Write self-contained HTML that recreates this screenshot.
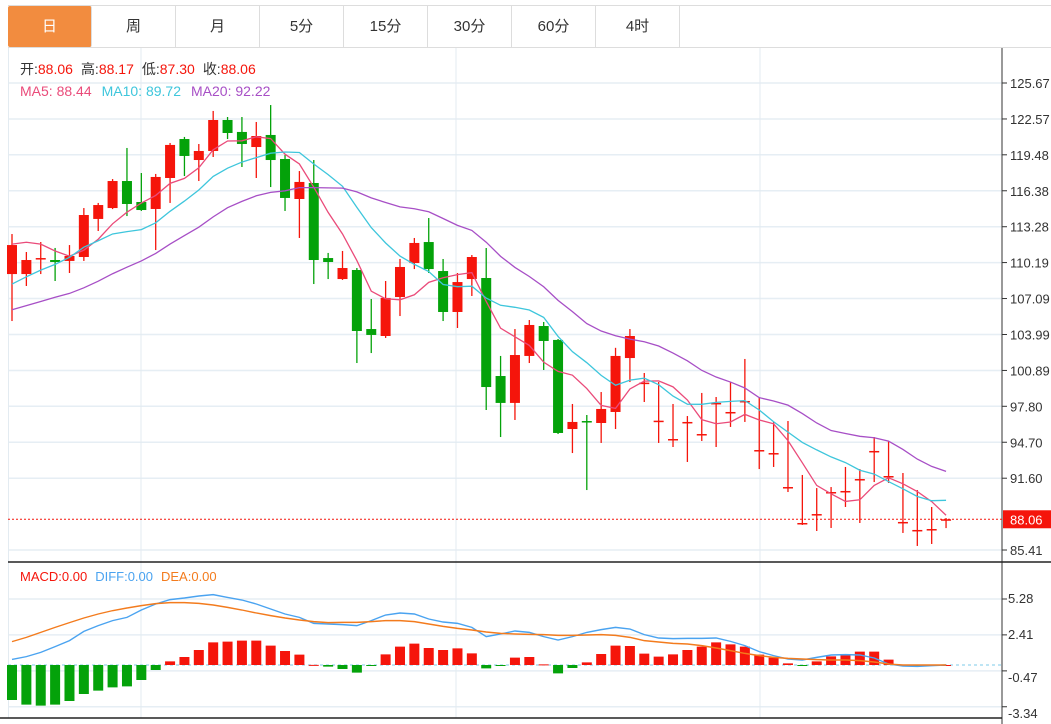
<!DOCTYPE html>
<html><head><meta charset="utf-8">
<style>
body{margin:0;background:#fff;font-family:"Liberation Sans","Noto Sans CJK SC",sans-serif;}
#wrap{position:relative;width:1051px;height:724px;overflow:hidden;}
.tab{position:absolute;top:6px;height:41px;width:84px;line-height:41px;text-align:center;font-size:15px;color:#333;border-right:1px solid #ddd;box-sizing:border-box;}
.tab.on{background:#f28c3f;color:#fff;border-radius:2px;}
</style></head><body>
<div id="wrap">
<div style="position:absolute;left:8px;top:5px;width:1043px;height:43px;border-top:1px solid #ddd;border-bottom:1px solid #ddd;box-sizing:border-box"></div>
<div class="tab on" style="left:8px">日</div>
<div class="tab" style="left:92px">周</div>
<div class="tab" style="left:176px">月</div>
<div class="tab" style="left:260px">5分</div>
<div class="tab" style="left:344px">15分</div>
<div class="tab" style="left:428px">30分</div>
<div class="tab" style="left:512px">60分</div>
<div class="tab" style="left:596px">4时</div>
<svg id="svg" width="1051" height="724" style="position:absolute;left:0;top:0"></svg>
</div>
<script>
const opens=[109.20,109.20,110.50,110.41,110.33,110.67,113.95,114.89,117.22,115.41,114.81,117.48,120.84,119.03,119.81,122.48,121.45,120.15,121.19,119.12,115.67,117.05,110.58,108.77,109.55,104.46,103.86,107.22,110.15,111.96,109.46,105.93,108.77,108.86,100.41,98.09,102.14,104.72,103.52,95.84,96.53,96.36,97.31,101.96,99.78,96.50,94.93,96.40,95.36,98.04,97.26,98.21,93.98,93.72,90.79,87.69,88.46,90.36,90.45,91.48,93.90,91.74,87.78,87.09,87.17,88.00];
const closes=[111.70,110.41,110.58,110.24,110.76,114.29,115.15,117.22,115.24,114.72,117.57,120.33,119.38,119.81,122.48,121.36,120.41,121.10,119.03,115.76,117.14,110.41,110.24,109.72,104.29,103.95,107.14,109.81,111.88,109.63,105.93,108.51,110.67,99.46,98.09,102.22,104.81,103.43,95.50,96.45,96.45,97.57,102.14,103.86,99.84,96.56,94.98,96.45,95.41,98.09,97.31,98.26,94.03,93.77,90.84,87.74,88.51,90.41,90.50,91.53,93.95,91.79,87.83,87.14,87.22,88.06];
const highs=[112.65,111.10,111.96,111.45,111.70,114.89,115.33,117.39,120.07,117.91,117.83,120.50,121.02,120.41,123.26,122.74,122.74,122.31,123.77,119.46,118.08,119.03,111.02,111.19,109.72,107.05,108.60,110.50,112.31,114.03,110.50,109.29,110.84,111.45,102.14,104.46,105.24,105.07,103.60,98.00,97.05,99.03,102.84,104.46,100.67,99.89,98.00,96.96,98.95,98.60,99.89,101.88,98.60,96.45,96.53,91.88,90.75,90.84,92.57,92.39,95.15,94.81,92.05,90.58,89.12,88.17];
const lows=[105.15,108.17,109.20,108.60,109.29,110.33,112.91,114.80,114.20,114.64,111.27,115.33,117.65,117.22,119.29,120.84,118.43,117.48,116.70,114.64,112.31,108.34,108.77,108.69,101.53,102.39,103.69,105.58,109.63,109.29,105.15,104.55,107.31,97.48,95.15,96.62,101.53,100.93,95.41,93.77,90.58,94.64,95.84,99.89,98.17,94.64,94.29,93.00,94.81,94.29,96.02,96.45,92.39,92.57,90.41,87.57,87.05,87.31,89.12,87.74,91.27,91.19,86.88,85.76,85.93,87.30];
const priorCloses=[103.2,103.5,103.0,104.1,104.6,103.8,104.3,104.0,103.9,104.6,104.2,104.8,105.3,104.7,105.5,109.6,111.4,113.2,113.0];
const priceTicks=[125.67,122.57,119.48,116.38,113.28,110.19,107.09,103.99,100.89,97.80,94.70,91.60,85.41];
const diffVals=[0.45,0.67,1.01,1.47,1.95,2.69,3.15,3.55,3.81,4.40,4.88,5.23,5.36,5.52,5.63,5.41,5.20,4.88,4.48,4.08,3.81,3.33,3.28,3.23,3.15,3.55,4.00,4.16,4.08,3.68,3.44,3.33,3.01,2.27,2.48,2.72,2.61,2.27,2.00,2.27,2.61,2.83,3.01,2.88,2.43,2.16,2.11,2.13,2.13,2.16,1.89,1.55,1.07,0.75,0.48,0.40,0.61,0.80,0.83,0.80,0.56,0.08,-0.08,-0.11,-0.05,0];
const deaVals=[1.87,2.21,2.61,3.01,3.39,3.76,4.08,4.35,4.56,4.75,4.91,4.99,4.99,4.93,4.80,4.61,4.40,4.16,3.95,3.76,3.60,3.47,3.39,3.41,3.41,3.47,3.55,3.55,3.47,3.28,3.09,2.93,2.80,2.64,2.53,2.48,2.45,2.43,2.37,2.37,2.40,2.43,2.37,2.21,1.95,1.84,1.73,1.68,1.55,1.36,1.15,0.93,0.75,0.61,0.53,0.48,0.43,0.40,0.40,0.35,0.24,0.08,0,0,0,0];
const macdVals=[-2.80,-3.17,-3.25,-3.17,-2.88,-2.32,-2.05,-1.79,-1.71,-1.20,-0.40,0.29,0.64,1.20,1.81,1.87,1.95,1.95,1.55,1.12,0.83,0.01,-0.13,-0.32,-0.61,-0.02,0.85,1.47,1.71,1.36,1.20,1.33,0.93,-0.27,-0.02,0.59,0.64,0.05,-0.67,-0.24,0.21,0.88,1.55,1.52,0.91,0.67,0.85,1.20,1.47,1.81,1.65,1.47,0.83,0.59,0.13,-0.08,0.29,0.69,0.83,1.07,1.07,0.43,0.02,-0.03,-0.02,0];
const macdTicks=[5.28,2.41,-0.47,-3.34];

const NS='http://www.w3.org/2000/svg';
const svg=document.getElementById('svg');
function mk(tag,attrs,parent){const e=document.createElementNS(NS,tag);for(const k in attrs)e.setAttribute(k,attrs[k]);(parent||svg).appendChild(e);return e;}
const xOf=i=>12+i*14.37;
const yP=v=>83+(125.67-v)*11.6;
const yM=v=>665-v*12.5;
const RED='#f5150b',GREEN='#04a20a';

for(const t of priceTicks){const g=mk('line',{x1:8,x2:1002,y1:yP(t),y2:yP(t),stroke:'#e6eef4','stroke-width':1.5});

}
for(const t of macdTicks){const g=mk('line',{x1:8,x2:1002,y1:yM(t),y2:yM(t),stroke:'#e6eef4','stroke-width':1.5});

}
for(const vx of [141,456,760]){const g=mk('line',{x1:vx,x2:vx,y1:48,y2:718,stroke:'#e3ebf1','stroke-width':1});

}
mk('line',{x1:8.5,x2:8.5,y1:48,y2:718,stroke:'#e3ebf1'});
mk('line',{x1:1002,x2:1002,y1:48,y2:724,stroke:'#333','stroke-width':1});
mk('line',{x1:8,x2:1051,y1:562,y2:562,stroke:'#222','stroke-width':1.5});
mk('line',{x1:0,x2:1002,y1:718,y2:718,stroke:'#222','stroke-width':1.5});

priceTicks.forEach(t=>{const y=yP(t);
mk('line',{x1:1002,x2:1007,y1:y,y2:y,stroke:'#333'});
const tx=mk('text',{x:1010,y:y+5,'font-size':13,fill:'#333'});tx.textContent=t.toFixed(2);

});
macdTicks.forEach(t=>{const y=yM(t);
mk('line',{x1:1002,x2:1007,y1:y,y2:y,stroke:'#333'});
const tx=mk('text',{x:1008,y:y+(t<0?11:4),'font-size':13,fill:'#333'});tx.textContent=(t<0?'-':'')+Math.abs(t).toFixed(2);

});

closes.forEach((c,i)=>{const o=opens[i],x=xOf(i),up=c>=o,col=up?RED:GREEN;
const g=mk('g',{});


mk('line',{x1:x,x2:x,y1:yP(highs[i]),y2:yP(lows[i]),stroke:col,'stroke-width':1.3},g);
const top=yP(Math.max(o,c)),bh=Math.max(1.5,Math.abs(yP(o)-yP(c)));
mk('rect',{x:x-5,y:top,width:10,height:bh,fill:col},g);});

const all=priorCloses.concat(closes),P=priorCloses.length;
function ma(n){return closes.map((_,i)=>{let s=0;for(let k=0;k<n;k++)s+=all[P+i-k];return s/n;});}
[[5,'#ea4b7a','ma5-line'],[10,'#3ec6dc','ma10-line'],[20,'#a74fc6','ma20-line']].forEach(([n,col,nm])=>{
const m=ma(n);const p=mk('polyline',{points:m.map((v,i)=>xOf(i)+','+yP(v)).join(' '),fill:'none',stroke:col,'stroke-width':1.3});

});

mk('line',{x1:8,x2:1002,y1:yP(88.06),y2:yP(88.06),stroke:RED,'stroke-width':1,'stroke-dasharray':'2,2'});
const tag=mk('rect',{x:1003,y:yP(88.06)-9,width:48,height:18,fill:RED});


const tt=mk('text',{x:1010,y:yP(88.06)+5,'font-size':13,fill:'#fff'});tt.textContent='88.06';

mk('line',{x1:8,x2:1002,y1:yM(0),y2:yM(0),stroke:'#7ccbe8','stroke-dasharray':'3,3'});
macdVals.forEach((v,i)=>{const x=xOf(i);const y0=yM(0),y1=yM(v);
const r=mk('rect',{x:x-5,y:Math.min(y0,y1),width:10,height:Math.max(1,Math.abs(y1-y0)),fill:v>=0?RED:GREEN});

});
[[diffVals,'#4aa3f0','diff-line'],[deaVals,'#f37b1d','dea-line']].forEach(([arr,col,nm])=>{
const p=mk('polyline',{points:arr.map((v,i)=>xOf(i)+','+yM(v)).join(' '),fill:'none',stroke:col,'stroke-width':1.4});

});

function legend(y,parts,nm){const t=mk('text',{x:20,y:y,'font-size':14});


parts.forEach(([s,c,dx])=>{const sp=mk('tspan',{fill:c},t);if(dx)sp.setAttribute('dx',dx);sp.textContent=s;});}
legend(74,[['开:','#333'],['88.06',RED],['高:','#333',8],['88.17',RED],['低:','#333',8],['87.30',RED],['收:','#333',8],['88.06',RED]],'ohlc-legend');
legend(96,[['MA5: 88.44','#ea4b7a'],['MA10: 89.72','#3ec6dc',10],['MA20: 92.22','#a74fc6',10]],'ma-legend');
const ml=mk('text',{x:20,y:581,'font-size':13});


[['MACD:0.00',RED,0],['DIFF:0.00','#4aa3f0',8],['DEA:0.00','#f37b1d',8]].forEach(([s,c,dx])=>{const sp=mk('tspan',{fill:c,dx:dx},ml);sp.textContent=s;});
</script>
</body></html>
